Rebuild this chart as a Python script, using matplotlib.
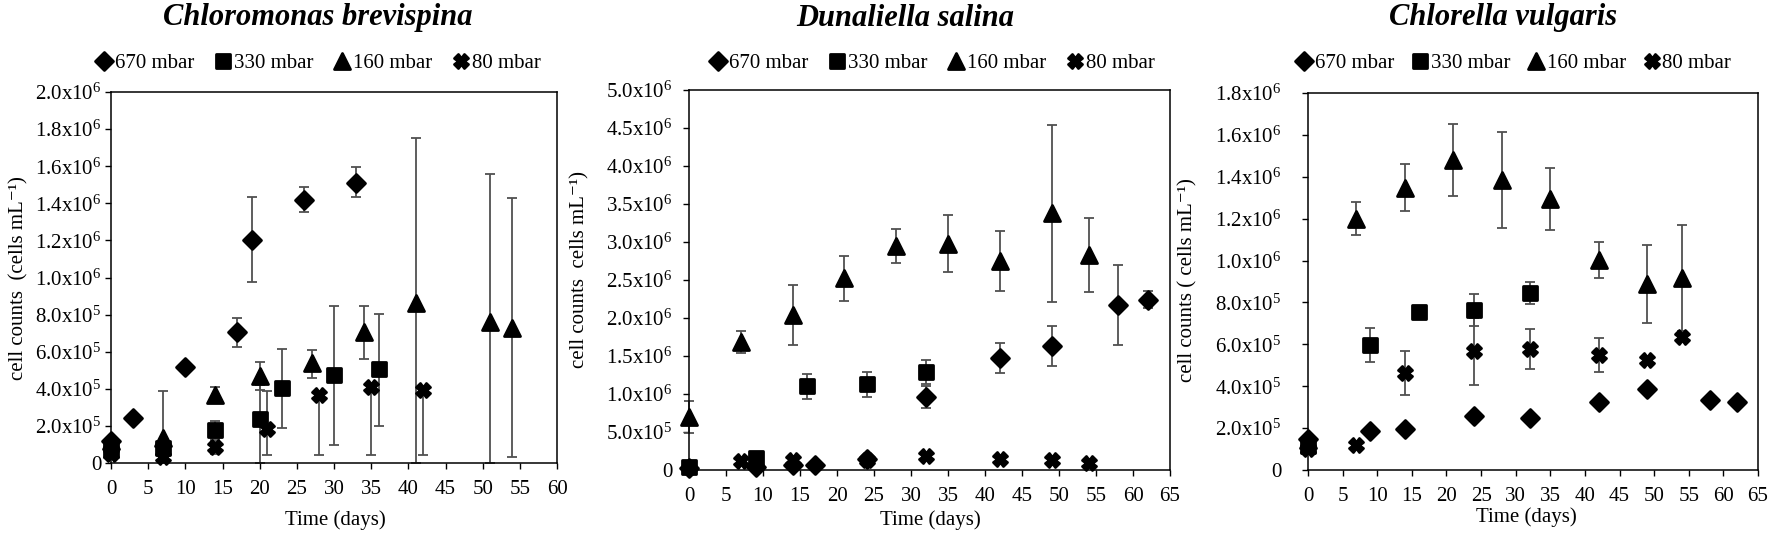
import numpy as np
import matplotlib
matplotlib.use("Agg")
import matplotlib.pyplot as plt
from matplotlib.lines import Line2D
from matplotlib.markers import MarkerStyle
from matplotlib.ticker import FuncFormatter, MultipleLocator

plt.rcParams['font.family'] = ['Liberation Serif', 'DejaVu Serif']
plt.rcParams['mathtext.fontset'] = 'custom'
plt.rcParams['mathtext.rm'] = 'Liberation Serif'
plt.rcParams['mathtext.it'] = 'Liberation Serif:italic'
plt.rcParams['mathtext.bf'] = 'Liberation Serif:bold'

pressures = ['670 mbar', '330 mbar', '160 mbar', '80 mbar']

# Chloromonas brevispina
cb_days_670 = [0, 3, 10, 17, 19, 26, 33]
cb_670 = [1.2e5, 2.4e5, 5.2e5, 7.05e5, 1.20e6, 1.42e6, 1.51e6]
cb_670_lo = [0, 0, 0, 0.8e5, 2.25e5, 0.67e5, 0.76e5]
cb_670_hi = [0, 0, 0, 0.75e5, 2.35e5, 0.68e5, 0.86e5]
cb_days_330 = [0, 7, 14, 20, 23, 30, 36]
cb_330 = [0.7e5, 0.8e5, 1.78e5, 2.37e5, 4.04e5, 4.74e5, 5.07e5]
cb_330_lo = [0, 0, 0.5e5, 2.37e5, 2.15e5, 3.77e5, 3.08e5]
cb_330_hi = [0, 0, 0.5e5, 1.83e5, 2.1e5, 3.72e5, 2.96e5]
cb_days_160 = [0, 7, 14, 20, 27, 34, 41, 51, 54]
cb_160 = [1.2e5, 1.35e5, 3.67e5, 4.7e5, 5.39e5, 7.06e5, 8.6e5, 7.6e5, 7.3e5]
cb_160_lo = [0, 1.35e5, 0.45e5, 0.76e5, 0.8e5, 1.46e5, 8.6e5, 7.6e5, 7.0e5]
cb_160_hi = [0, 2.55e5, 0.45e5, 0.76e5, 0.7e5, 1.4e5, 8.9e5, 8.0e5, 7.0e5]
cb_days_80 = [0, 7, 14, 21, 28, 35, 42]
cb_80 = [0.5e5, 0.3e5, 0.86e5, 1.83e5, 3.67e5, 4.1e5, 3.94e5]
cb_80_lo = [0, 0, 0.35e5, 1.4e5, 3.24e5, 3.67e5, 3.5e5]
cb_80_hi = [0, 0, 0.35e5, 2.05e5, 0, 0, 0]

# Dunaliella salina
ds_days_670 = [0, 9, 14, 17, 24, 32, 42, 49, 58, 62]
ds_670 = [3e4, 4e4, 6e4, 6e4, 1.4e5, 9.6e5, 1.47e6, 1.63e6, 2.17e6, 2.24e6]
ds_670_err = [0, 0, 0, 0, 0, 1.5e5, 2.0e5, 2.6e5, 5.3e5, 1.1e5]
ds_days_330 = [0, 9, 16, 24, 32]
ds_330 = [4e4, 1.6e5, 1.10e6, 1.13e6, 1.29e6]
ds_330_err = [0, 0, 1.65e5, 1.65e5, 1.55e5]
ds_days_160 = [0, 7, 14, 21, 28, 35, 42, 49, 54]
ds_160 = [7.0e5, 1.69e6, 2.04e6, 2.52e6, 2.95e6, 2.98e6, 2.75e6, 3.38e6, 2.83e6]
ds_160_err = [2.1e5, 1.45e5, 3.95e5, 2.9e5, 2.25e5, 3.8e5, 3.95e5, 1.165e6, 4.85e5]
ds_days_80 = [7, 14, 24, 32, 42, 49, 54]
ds_80 = [1.2e5, 1.3e5, 1.3e5, 1.8e5, 1.4e5, 1.3e5, 0.9e5]
ds_80_err = [0, 0, 0, 0, 0, 0, 0]

# Chlorella vulgaris
cv_days_670 = [0, 9, 14, 24, 32, 42, 49, 58, 62]
cv_670 = [1.5e5, 1.86e5, 1.96e5, 2.58e5, 2.48e5, 3.25e5, 3.87e5, 3.34e5, 3.25e5]
cv_670_err = [0, 0, 0, 0, 0, 0.1e5, 0, 0, 0]
cv_days_330 = [0, 9, 16, 24, 32]
cv_330 = [1.15e5, 5.97e5, 7.54e5, 7.64e5, 8.45e5]
cv_330_err = [0, 0.83e5, 0.3e5, 0.76e5, 0.53e5]
cv_days_160 = [0, 7, 14, 21, 28, 35, 42, 49, 54]
cv_160 = [1.45e5, 1.20e6, 1.347e6, 1.48e6, 1.385e6, 1.294e6, 1.003e6, 8.88e5, 9.17e5]
cv_160_err = [0, 0.8e5, 1.12e5, 1.72e5, 2.3e5, 1.47e5, 0.87e5, 1.87e5, 2.55e5]
cv_days_80 = [0, 7, 14, 24, 32, 42, 49, 54]
cv_80 = [1.0e5, 1.19e5, 4.63e5, 5.68e5, 5.78e5, 5.49e5, 5.25e5, 6.35e5]
cv_80_err = [0, 0, 1.07e5, 1.6e5, 0.95e5, 0.81e5, 0.2e5, 0]

markers = [MarkerStyle(m, joinstyle='round') for m in ['D', 's', '^', 'X']]
msizes = [9, 10.5, 11.5, 9.5]
W, H = 1772, 544


def sci(v, pos):
    if abs(v) < 1:
        return '0'
    if v < 0:
        return ''
    e = int(np.floor(np.log10(v) + 1e-9))
    return '{:.1f}x10$^{{{}}}$'.format(v / 10 ** e, e)


def draw(ax, series):
    for i, (d, v, lo, hi) in enumerate(series):
        v = np.array(v)
        lo = np.minimum(np.array(lo), v)   # bars stop at the axis
        ax.errorbar(d, v, yerr=[lo, np.array(hi)], fmt='none', ecolor='#505050',
                    elinewidth=1.3, capsize=3.5, capthick=1.3, zorder=2, clip_on=False)
        ax.plot(d, v, linestyle='none', marker=markers[i], ms=msizes[i], color='black',
                mec='black', mew=2, zorder=3, clip_on=False)


fig = plt.figure(figsize=(W / 100, H / 100), dpi=100)

# left, right, top, bottom in pixels
boxes = [(111, 557, 92, 463), (689, 1170, 90, 470), (1308, 1758, 93, 470)]
axes = []
for l, r, t, b in boxes:
    axes.append(fig.add_axes([l / W, 1 - b / H, (r - l) / W, (b - t) / H]))

draw(axes[0], [(cb_days_670, cb_670, cb_670_lo, cb_670_hi),
               (cb_days_330, cb_330, cb_330_lo, cb_330_hi),
               (cb_days_160, cb_160, cb_160_lo, cb_160_hi),
               (cb_days_80, cb_80, cb_80_lo, cb_80_hi)])
draw(axes[1], [(ds_days_670, ds_670, ds_670_err, ds_670_err),
               (ds_days_330, ds_330, ds_330_err, ds_330_err),
               (ds_days_160, ds_160, ds_160_err, ds_160_err),
               (ds_days_80, ds_80, ds_80_err, ds_80_err)])
draw(axes[2], [(cv_days_670, cv_670, cv_670_err, cv_670_err),
               (cv_days_330, cv_330, cv_330_err, cv_330_err),
               (cv_days_160, cv_160, cv_160_err, cv_160_err),
               (cv_days_80, cv_80, cv_80_err, cv_80_err)])

xmax = [60, 65, 65]
ymax = [2.0e6, 5.0e6, 1.8e6]
ystep = [2e5, 5e5, 2e5]
ypad = [3, 8, 15]
for ax, xm, ym, ys, yp in zip(axes, xmax, ymax, ystep, ypad):
    ax.set_xlim(0, xm)
    ax.set_ylim(0, ym)
    ax.xaxis.set_major_locator(MultipleLocator(5))
    ax.yaxis.set_major_locator(MultipleLocator(ys))
    ax.yaxis.set_major_formatter(FuncFormatter(sci))
    ax.tick_params(axis='both', direction='out', length=4, width=1, labelsize=15)
    ax.tick_params(axis='y', pad=yp)
    ax.tick_params(axis='x', pad=8)
    for s in ax.spines.values():
        s.set_linewidth(1.1)

titles = ['Chloromonas brevispina', 'Dunaliella salina', 'Chlorella vulgaris']
title_x = [318, 905, 1503]
for t, x in zip(titles, title_x):
    fig.text(x / W, 1 - 18 / H, t, ha='center', va='center', fontsize=22,
             fontweight='bold', fontstyle='italic')

ylabels = ['cell counts  (cells mL⁻¹)', 'cell counts  cells mL⁻¹)',
           'cell counts ( cells mL⁻¹)']
ylab_pos = [(19, 278), (580, 270), (1188, 280)]
for t, (x, y) in zip(ylabels, ylab_pos):
    fig.text(x / W, 1 - y / H, t, ha='center', va='center', rotation=90, fontsize=15)

xlab_pos = [(335, 520), (930, 520), (1526, 517)]
for x, y in xlab_pos:
    fig.text(x / W, 1 - y / H, 'Time (days)', ha='center', va='center', fontsize=15)

handles = [Line2D([], [], linestyle='none', marker=m, ms=s, color='black', mew=2)
           for m, s in zip(markers, msizes)]
leg_x = [96, 710, 1296]
leg_sp = [1.0, 1.0, 0.85]
for x, sp in zip(leg_x, leg_sp):
    fig.legend(handles, pressures, loc='center left', bbox_to_anchor=(x / W, 1 - 63 / H),
               ncol=4, frameon=False, fontsize=15, handlelength=0.8, handletextpad=0.1,
               columnspacing=sp, borderpad=0, borderaxespad=0)

fig.savefig('out.png', dpi=100)
